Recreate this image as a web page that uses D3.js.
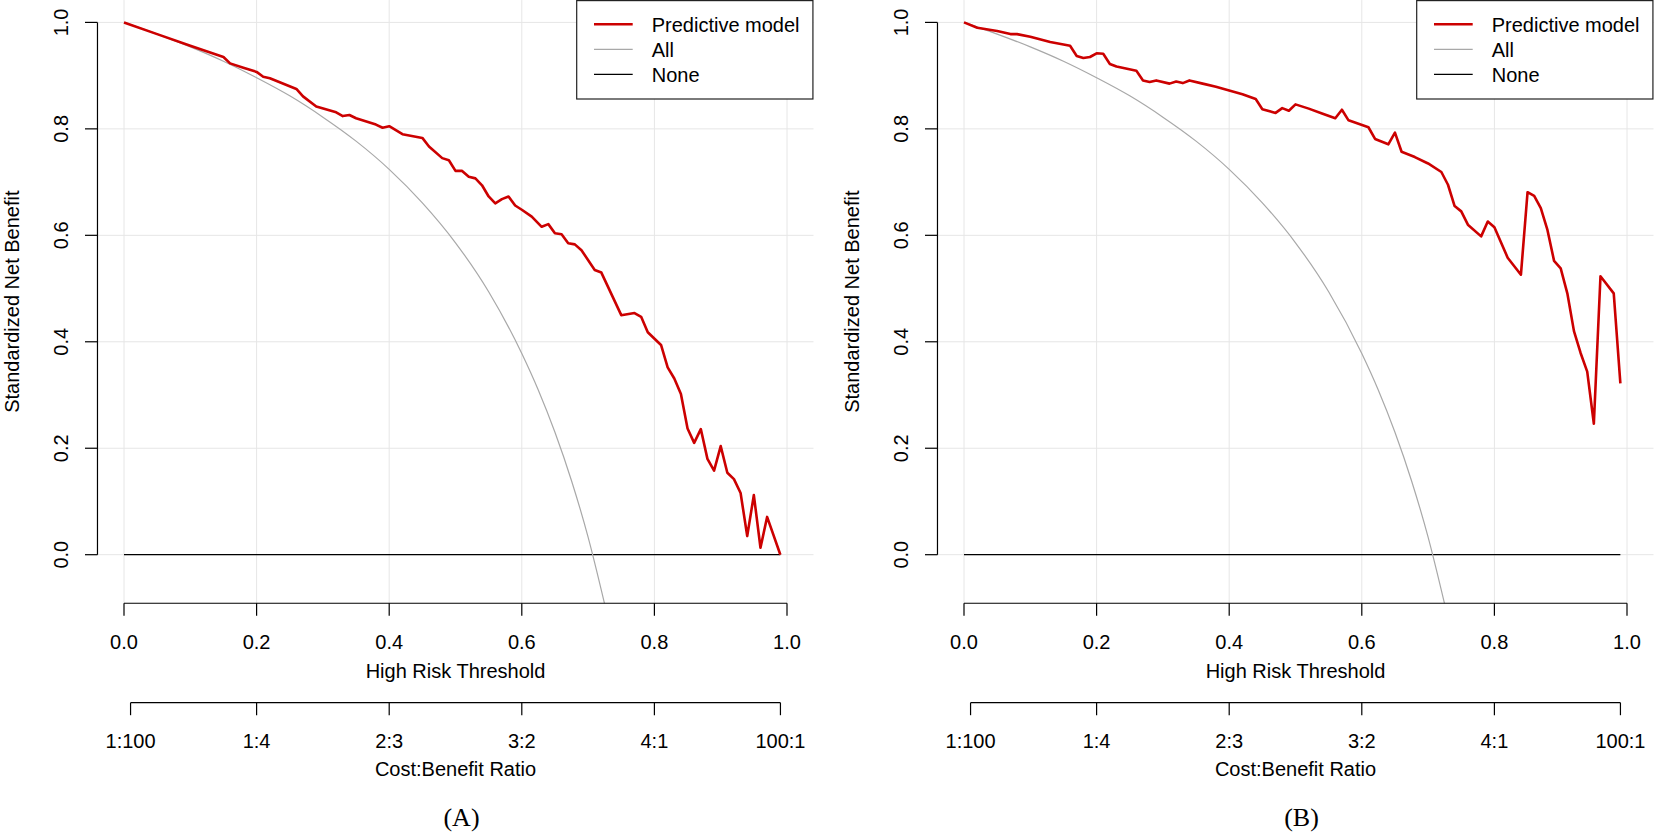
<!DOCTYPE html>
<html>
<head>
<meta charset="utf-8">
<script src="https://cdn.jsdelivr.net/npm/d3@7/dist/d3.min.js"></script>
<style>
html,body{margin:0;padding:0;background:#fff;}
svg{display:block;}
text{font-family:"Liberation Sans",Arial,sans-serif;fill:#000;}
</style>
</head>
<body>
<svg id="chart" width="1654" height="834"></svg>
<script>
// ---- data ----
const panelLabels = ["(A)", "(B)"];
const legendLabels = ["Predictive model", "All", "None"];
const xTicks = [0, 0.2, 0.4, 0.6, 0.8, 1.0];
const yTicks = [0, 0.2, 0.4, 0.6, 0.8, 1.0];
const cbTicks = [1/101, 0.2, 0.4, 0.6, 0.8, 100/101];
const cbLabels = ["1:100", "1:4", "2:3", "3:2", "4:1", "100:1"];

const thresholdsA = [0,0.05,0.10,0.15,0.16,0.18,0.20,0.21,0.22,0.26,0.27,0.29,0.32,0.33,0.34,0.35,0.38,0.39,0.40,0.42,0.45,0.46,0.48,0.49,0.50,0.51,0.52,0.53,0.54,0.55,0.56,0.57,0.58,0.59,0.60,0.615,0.63,0.64,0.65,0.66,0.67,0.68,0.69,0.71,0.72,0.75,0.77,0.78,0.79,0.81,0.82,0.83,0.84,0.85,0.86,0.87,0.88,0.89,0.90,0.91,0.92,0.93,0.94,0.95,0.96,0.97,0.99];
const netBenefitA = [1.0,0.978,0.956,0.935,0.923,0.915,0.907,0.898,0.895,0.875,0.861,0.842,0.831,0.824,0.826,0.820,0.808,0.802,0.805,0.790,0.783,0.767,0.745,0.741,0.721,0.721,0.710,0.707,0.694,0.673,0.660,0.668,0.673,0.656,0.648,0.635,0.616,0.621,0.604,0.602,0.585,0.583,0.572,0.535,0.530,0.450,0.454,0.447,0.418,0.394,0.352,0.331,0.302,0.237,0.210,0.236,0.180,0.158,0.204,0.154,0.142,0.116,0.035,0.112,0.013,0.071,0.0];

const thresholdsB = [0,0.02,0.05,0.07,0.08,0.10,0.13,0.16,0.17,0.18,0.19,0.20,0.21,0.22,0.23,0.26,0.27,0.28,0.29,0.31,0.32,0.33,0.34,0.36,0.38,0.40,0.42,0.44,0.45,0.47,0.48,0.49,0.50,0.52,0.54,0.56,0.57,0.58,0.61,0.62,0.64,0.65,0.66,0.68,0.70,0.72,0.73,0.74,0.75,0.76,0.78,0.79,0.80,0.82,0.84,0.85,0.86,0.87,0.88,0.89,0.90,0.91,0.92,0.93,0.94,0.95,0.96,0.98,0.99];
const netBenefitB = [1.0,0.990,0.984,0.978,0.978,0.973,0.963,0.956,0.937,0.933,0.935,0.942,0.941,0.922,0.917,0.909,0.891,0.888,0.891,0.885,0.889,0.886,0.891,0.885,0.879,0.872,0.865,0.856,0.837,0.830,0.839,0.834,0.846,0.838,0.829,0.820,0.836,0.816,0.803,0.781,0.771,0.793,0.757,0.747,0.735,0.719,0.695,0.655,0.645,0.620,0.598,0.626,0.615,0.558,0.526,0.681,0.674,0.651,0.610,0.552,0.538,0.491,0.420,0.379,0.344,0.246,0.523,0.491,0.322];

// "All" reference curve (same in both panels)
const allThresholds = [0,0.05,0.10,0.15,0.20,0.25,0.30,0.35,0.40,0.45,0.50,0.55,0.60,0.625,0.65,0.675,0.70,0.725];
const allBenefit = [1.0,0.978,0.954,0.927,0.896,0.862,0.822,0.777,0.724,0.661,0.586,0.494,0.378,0.309,0.230,0.139,0.033,-0.093];

const panels = [
  {label: panelLabels[0], t: thresholdsA, v: netBenefitA, dx: 0},
  {label: panelLabels[1], t: thresholdsB, v: netBenefitB, dx: 840}
];

const svg = d3.select("#chart");
const RED = "#cc0000", GREY = "#a8a8a8", GRID = "#e6e6e6";

panels.forEach((p, i) => {
  const g = svg.append("g").attr("transform", `translate(${p.dx},0)`);
  const x = d3.scaleLinear().domain([0, 1]).range([124, 787]);
  const y = d3.scaleLinear().domain([0, 1]).range([554.7, 22.4]);
  const left = x(-0.04), right = x(1.04), top = y(1.042), bottom = y(-0.0912);

  const clipId = "clip" + i;
  g.append("clipPath").attr("id", clipId).append("rect")
    .attr("x", left).attr("y", top).attr("width", right - left).attr("height", bottom - top);

  // grid
  const grid = g.append("g");
  grid.selectAll("line.v").data(xTicks).join("line")
    .attr("x1", d => x(d)).attr("x2", d => x(d)).attr("y1", top).attr("y2", bottom)
    .attr("stroke", GRID).attr("stroke-width", 1);
  grid.selectAll("line.h").data(yTicks).join("line")
    .attr("x1", left).attr("x2", right).attr("y1", d => y(d)).attr("y2", d => y(d))
    .attr("stroke", GRID).attr("stroke-width", 1);

  const plot = g.append("g").attr("clip-path", `url(#${clipId})`);
  // None
  plot.append("line").attr("x1", x(0)).attr("x2", x(0.99)).attr("y1", y(0)).attr("y2", y(0))
    .attr("stroke", "#000").attr("stroke-width", 1.3);
  // All
  const allData = allThresholds.map((t, k) => [t, allBenefit[k]]);
  plot.append("path").datum(allData)
    .attr("d", d3.line().x(d => x(d[0])).y(d => y(d[1])).curve(d3.curveMonotoneX))
    .attr("fill", "none").attr("stroke", GREY).attr("stroke-width", 1.2);
  // model
  const mData = p.t.map((t, k) => [t, p.v[k]]);
  plot.append("path").datum(mData)
    .attr("d", d3.line().x(d => x(d[0])).y(d => y(d[1])))
    .attr("fill", "none").attr("stroke", RED).attr("stroke-width", 2.6)
    .attr("stroke-linejoin", "round");

  // y axis
  g.append("line").attr("x1", left).attr("x2", left).attr("y1", y(0)).attr("y2", y(1))
    .attr("stroke", "#000").attr("stroke-width", 1.2);
  g.selectAll("line.yt").data(yTicks).join("line")
    .attr("x1", left - 12.5).attr("x2", left).attr("y1", d => y(d)).attr("y2", d => y(d))
    .attr("stroke", "#000").attr("stroke-width", 1.2);
  g.selectAll("text.yl").data(yTicks).join("text")
    .attr("transform", d => `translate(68.3,${y(d)}) rotate(-90)`)
    .attr("text-anchor", "middle").attr("font-size", 20)
    .text(d => d3.format(".1f")(d));
  g.append("text")
    .attr("transform", `translate(19,${(top + bottom) / 2}) rotate(-90)`)
    .attr("text-anchor", "middle").attr("font-size", 20)
    .text("Standardized Net Benefit");

  // x axis
  g.append("line").attr("x1", x(0)).attr("x2", x(1)).attr("y1", bottom).attr("y2", bottom)
    .attr("stroke", "#000").attr("stroke-width", 1.2);
  g.selectAll("line.xt").data(xTicks).join("line")
    .attr("x1", d => x(d)).attr("x2", d => x(d)).attr("y1", bottom).attr("y2", bottom + 12.5)
    .attr("stroke", "#000").attr("stroke-width", 1.2);
  g.selectAll("text.xl").data(xTicks).join("text")
    .attr("x", d => x(d)).attr("y", 648.8).attr("text-anchor", "middle").attr("font-size", 20)
    .text(d => d3.format(".1f")(d));
  g.append("text").attr("x", (left + right) / 2).attr("y", 678.3)
    .attr("text-anchor", "middle").attr("font-size", 20).text("High Risk Threshold");

  // cost:benefit axis
  const cbY = 702.7;
  g.append("line").attr("x1", x(cbTicks[0])).attr("x2", x(cbTicks[cbTicks.length - 1]))
    .attr("y1", cbY).attr("y2", cbY).attr("stroke", "#000").attr("stroke-width", 1.2);
  g.selectAll("line.ct").data(cbTicks).join("line")
    .attr("x1", d => x(d)).attr("x2", d => x(d)).attr("y1", cbY).attr("y2", cbY + 12.5)
    .attr("stroke", "#000").attr("stroke-width", 1.2);
  g.selectAll("text.cl").data(cbTicks).join("text")
    .attr("x", d => x(d)).attr("y", 748).attr("text-anchor", "middle").attr("font-size", 20)
    .text((d, k) => cbLabels[k]);
  g.append("text").attr("x", (left + right) / 2).attr("y", 775.5)
    .attr("text-anchor", "middle").attr("font-size", 20).text("Cost:Benefit Ratio");

  // legend
  const lg = g.append("g");
  lg.append("rect").attr("x", 576.7).attr("y", 0.6).attr("width", right - 0.6 - 576.7).attr("height", 98.4)
    .attr("fill", "#fff").attr("stroke", "#222").attr("stroke-width", 1.2);
  const lStyles = [{c: RED, w: 2.6}, {c: GREY, w: 1.2}, {c: "#000", w: 1.2}];
  legendLabels.forEach((lab, k) => {
    const ly = 24.3 + k * 25;
    lg.append("line").attr("x1", 594).attr("x2", 632.7).attr("y1", ly).attr("y2", ly)
      .attr("stroke", lStyles[k].c).attr("stroke-width", lStyles[k].w);
    lg.append("text").attr("x", 651.7).attr("y", ly + 7.5).attr("font-size", 20).text(lab);
  });

  // panel label
  g.append("text").attr("x", (left + right) / 2 + 6).attr("y", 826)
    .attr("text-anchor", "middle").attr("font-size", 26)
    .style("font-family", "'Liberation Serif','Times New Roman',serif")
    .text(p.label);
});
</script>
</body>
</html>
